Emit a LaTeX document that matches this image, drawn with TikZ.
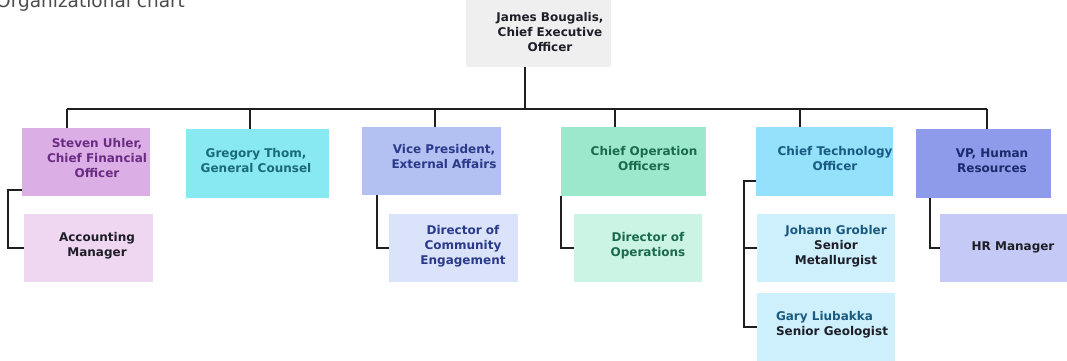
\documentclass[tikz,border=0pt]{standalone}
\usepackage{fontspec}
\setmainfont{DejaVu Sans}
\usepackage{tikz}

\definecolor{ceofill}{HTML}{EFEFEF}
\definecolor{cfofill}{HTML}{DCAEE6}
\definecolor{acctfill}{HTML}{EFD6F1}
\definecolor{gcfill}{HTML}{88E9F2}
\definecolor{vpxfill}{HTML}{B3C0F2}
\definecolor{dcomfill}{HTML}{DBE3FA}
\definecolor{coofill}{HTML}{9CE8CC}
\definecolor{dopsfill}{HTML}{CBF4E4}
\definecolor{ctofill}{HTML}{93E1FB}
\definecolor{geofill}{HTML}{CDF0FC}
\definecolor{vphfill}{HTML}{8E9BEA}
\definecolor{hrmfill}{HTML}{C4CAF5}

\definecolor{cfotext}{HTML}{6A2C82}
\definecolor{gctext}{HTML}{1A6A78}
\definecolor{vpxtext}{HTML}{2A3A8A}
\definecolor{cootext}{HTML}{1A6A50}
\definecolor{ctotext}{HTML}{1A5A80}
\definecolor{vphtext}{HTML}{1A2A6A}
\definecolor{darktext}{HTML}{1E1E28}

\begin{document}
\begin{tikzpicture}[x=1pt,y=-1pt]
  \tikzstyle{b} = [rectangle, inner sep=0pt, minimum height=68pt]
  \tikzstyle{t} = [align=center, inner sep=0pt, font=\bfseries\fontsize{12}{15}\selectfont]
  \tikzstyle{e} = [line width=2.4pt, draw=black!88];
  \useasboundingbox (0,0) rectangle (1067,360);

  \node[anchor=base west, inner sep=0pt, text=black!70, font=\fontsize{18.5}{22}\selectfont](ttl) at (-4,7.5){Organizational chart};

  % boxes
  \node[b, fill=ceofill, minimum width=145pt, minimum height=69pt](ceo) at (538.5,32.5){};
  \node[b, fill=cfofill, minimum width=128pt](cfo) at (86,162){};
  \node[b, fill=acctfill, minimum width=129pt](acct) at (88.5,248){};
  \node[b, fill=gcfill, minimum width=143pt, minimum height=69pt](gc) at (257.5,163.5){};
  \node[b, fill=vpxfill, minimum width=139pt](vpx) at (431.5,161){};
  \node[b, fill=dcomfill, minimum width=129pt](dcom) at (453.5,248){};
  \node[b, fill=coofill, minimum width=145pt, minimum height=69pt](coo) at (633.5,161.5){};
  \node[b, fill=dopsfill, minimum width=128pt](dops) at (638,248){};
  \node[b, fill=ctofill, minimum width=137pt, minimum height=69pt](cto) at (824.5,161.5){};
  \node[b, fill=geofill, minimum width=138pt](jg) at (826,248){};
  \node[b, fill=geofill, minimum width=138pt](gl) at (826,327){};
  \node[b, fill=vphfill, minimum width=135pt, minimum height=69pt](vph) at (983.5,163.5){};
  \node[b, fill=hrmfill, minimum width=127pt](hrm) at (1003.5,248){};

  % labels
  \node[t, text=darktext](ceo-t) at (550,32){James Bougalis,\\Chief Executive\\Officer};
  \node[t, text=cfotext](cfo-t) at (97,158){Steven Uhler,\\Chief Financial\\Officer};
  \node[t, text=darktext](acct-t) at (97,246){Accounting\\Manager};
  \node[t, text=gctext](gc-t) at (256,161){Gregory Thom,\\General Counsel};
  \node[t, text=vpxtext](vpx-t) at (444,157){Vice President,\\External Affairs};
  \node[t, text=vpxtext](dcom-t) at (463,246){Director of\\Community\\Engagement};
  \node[t, text=cootext](coo-t) at (644,159){Chief Operation\\Officers};
  \node[t, text=cootext](dops-t) at (648,246){Director of\\Operations};
  \node[t, text=ctotext](cto-t) at (835,159){Chief Technology\\Officer};
  \node[t, text=darktext](jg-t) at (836,246){\textcolor{ctotext}{Johann Grobler}\\Senior\\Metallurgist};
  \node[t, text=darktext, align=left](gl-t) at (832,325){\textcolor{ctotext}{Gary Liubakka}\\Senior Geologist};
  \node[t, text=vphtext](vph-t) at (992,161){VP, Human\\Resources};
  \node[t, text=darktext](hrm-t) at (1013,247){HR Manager};

  % reporting lines
  \coordinate (b1) at (67,109);
  \coordinate (b2) at (250,109);
  \coordinate (b3) at (435,109);
  \coordinate (b4) at (615,109);
  \coordinate (b5) at (800,109);
  \coordinate (b6) at (987,109);

  \draw[e](ceo.south -| 525,0)--(525,109);
  \draw[e](b1)--(b6);
  \draw[e](b1)--(b1 |- cfo.north);
  \draw[e](b2)--(b2 |- gc.north);
  \draw[e](b3)--(b3 |- vpx.north);
  \draw[e](b4)--(b4 |- coo.north);
  \draw[e](b5)--(b5 |- cto.north);
  \draw[e](b6)--(b6 |- vph.north);

  \draw[e]([yshift=6pt]cfo.south west)--++(-14,0)|-(acct.west);
  \draw[e](vpx.south west)++(15,0)|-(dcom.west);
  \draw[e](coo.south west)|-(dops.west);
  \draw[e]([yshift=15pt]cto.south west)-|([xshift=-13pt]gl.west)--(gl.west);
  \draw[e]([xshift=-13pt]jg.west)--(jg.west);
  \draw[e](vph.south west)++(14,0)|-(hrm.west);

\end{tikzpicture}
\end{document}
